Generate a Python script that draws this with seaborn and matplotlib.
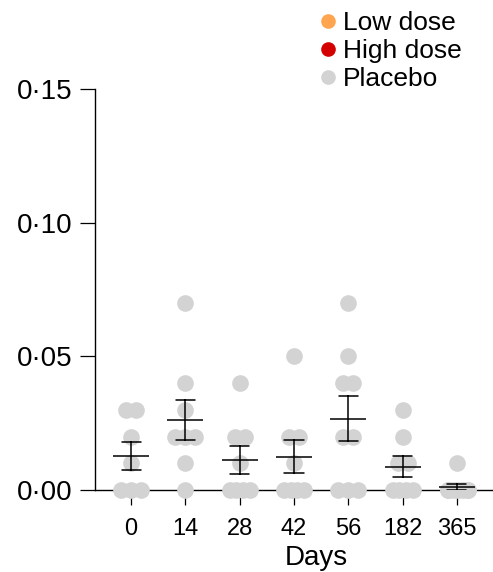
import numpy as np
import pandas as pd
import seaborn as sns
import matplotlib.pyplot as plt
from matplotlib.lines import Line2D

# data (fraction, one value per subject)
days = ['0', '14', '28', '42', '56', '182', '365']
day0 = [0.03, 0.03, 0.02, 0.01, 0.00, 0.00, 0.00]
day14 = [0.07, 0.04, 0.03, 0.02, 0.02, 0.02, 0.01, 0.00]
day28 = [0.04, 0.02, 0.02, 0.01, 0.00, 0.00, 0.00, 0.00]
day42 = [0.05, 0.02, 0.02, 0.01, 0.00, 0.00, 0.00, 0.00]
day56 = [0.07, 0.05, 0.04, 0.04, 0.02, 0.02, 0.00, 0.00, 0.00]
day182 = [0.03, 0.02, 0.01, 0.01, 0.00, 0.00, 0.00, 0.00]
day365 = [0.01, 0.00, 0.00, 0.00, 0.00, 0.00, 0.00, 0.00, 0.00]

groups = ['Low dose', 'High dose', 'Placebo']
group_colors = ['#FFA54F', '#D40000', '#D3D3D3']
yticks = [0.00, 0.05, 0.10, 0.15]
ytick_labels = ['0·00', '0·05', '0·10', '0·15']

per_day = [day0, day14, day28, day42, day56, day182, day365]
df = pd.DataFrame({
    'day': [d for d, vals in zip(days, per_day) for _ in vals],
    'value': [v for vals in per_day for v in vals],
})

sns.set_style('ticks')
plt.rcParams['font.family'] = ['Liberation Sans', 'DejaVu Sans']
plt.rcParams['text.color'] = 'black'
plt.rcParams['xtick.color'] = 'black'
plt.rcParams['ytick.color'] = 'black'
plt.rcParams['axes.labelcolor'] = 'black'

fig = plt.figure(figsize=(4.93, 5.72), dpi=100)
ax = fig.add_axes([95 / 493, 1 - 490 / 572, 398 / 493, 401 / 572])

# swarm positions computed with small markers, then the dots are enlarged so they overlap
sns.swarmplot(data=df, x='day', y='value', order=days, color=group_colors[2],
              size=7, linewidth=0, ax=ax, zorder=3, clip_on=False, warn_thresh=1)
n_swarm = len(ax.collections)

sns.pointplot(data=df, x='day', y='value', order=days, errorbar='se', capsize=0.35,
              linestyle='none', marker='_', markersize=26, markeredgewidth=1.1,
              color='black', err_kws={'linewidth': 1.1, 'zorder': 4}, zorder=4, ax=ax)

ax.set_xlim(-0.663, 6.663)
ax.set_ylim(0, 0.15)
ax.set_yticks(yticks)
ax.set_yticklabels(ytick_labels)

fig.canvas.draw()
max_span = 0.37  # rows of dots are packed into a fixed width
for i, coll in enumerate(ax.collections[:n_swarm]):
    if 'draw' in coll.__dict__:
        del coll.draw
    off = coll.get_offsets().copy()
    for yv in np.unique(off[:, 1]):
        row = off[:, 1] == yv
        rel = off[row, 0] - i
        rel = rel - rel.mean()
        span = rel.max() - rel.min()
        if span > max_span:
            rel = rel * max_span / span
        off[row, 0] = i + rel
    coll.set_offsets(off)
    coll.set_sizes([12 ** 2])

sns.despine(ax=ax)
for side in ['left', 'bottom']:
    ax.spines[side].set_linewidth(1.0)
    ax.spines[side].set_color('black')
    ax.spines[side].set_zorder(2)
ax.tick_params(axis='both', length=11, width=0.9, color='black')
ax.tick_params(axis='y', labelsize=20, pad=5)
ax.tick_params(axis='x', labelsize=17, pad=9.5)
ax.set_ylabel('')
ax.set_xlabel('Days', fontsize=20, x=0.555, labelpad=3)

handles = [Line2D([], [], marker='o', linestyle='', color=c, markersize=9.5, label=g)
           for g, c in zip(groups, group_colors)]
fig.legend(handles=handles, loc='upper left', bbox_to_anchor=(320 / 493, 1 - 11 / 572),
           frameon=False, fontsize=19, handlelength=0.6, handletextpad=0.27,
           labelspacing=0.15, borderpad=0, borderaxespad=0)

fig.savefig('out.png', dpi=100)
